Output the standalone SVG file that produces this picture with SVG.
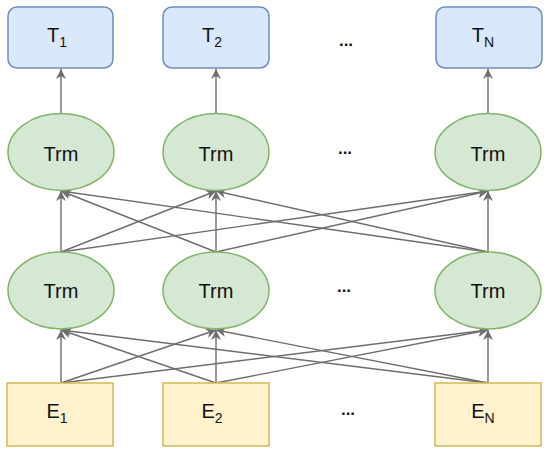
<svg xmlns="http://www.w3.org/2000/svg" width="550" height="457" viewBox="0 0 550 457">
<style>
.t{fill:#dae8fc;stroke:#6c8ebf;stroke-width:1.5}
.trm{fill:#d5e8d4;stroke:#82b366;stroke-width:1.5}
.e{fill:#fff2cc;stroke:#d6b656;stroke-width:1.5}
.lbl{font-family:"Liberation Sans",Arial,sans-serif;font-size:20px;fill:#111;text-anchor:middle}
.sub{font-size:14px}
.dots{font-family:"Liberation Sans",Arial,sans-serif;font-size:17px;font-weight:bold;fill:#111;text-anchor:middle}
#connectors line{stroke:#6e6e6e;stroke-width:1.4;fill:none;marker-end:url(#arr)}
</style>
<defs>
<marker id="arr" markerUnits="userSpaceOnUse" markerWidth="12" markerHeight="12" refX="10" refY="5" orient="auto">
<path d="M0,0 L10,5 L0,10 L3,5 Z" fill="#6e6e6e"/>
</marker>
</defs>
<g id="connectors">
<line x1="61" y1="113" x2="61" y2="69"/>
<line x1="216" y1="113" x2="216" y2="69"/>
<line x1="488" y1="113" x2="488" y2="69"/>
<line x1="61" y1="252" x2="61" y2="191"/>
<line x1="61" y1="252" x2="216" y2="191"/>
<line x1="61" y1="252" x2="488" y2="191"/>
<line x1="216" y1="252" x2="61" y2="191"/>
<line x1="216" y1="252" x2="216" y2="191"/>
<line x1="216" y1="252" x2="488" y2="191"/>
<line x1="488" y1="252" x2="61" y2="191"/>
<line x1="488" y1="252" x2="216" y2="191"/>
<line x1="488" y1="252" x2="488" y2="191"/>
<line x1="61" y1="383" x2="61" y2="330"/>
<line x1="61" y1="383" x2="216" y2="330"/>
<line x1="61" y1="383" x2="488" y2="330"/>
<line x1="216" y1="383" x2="61" y2="330"/>
<line x1="216" y1="383" x2="216" y2="330"/>
<line x1="216" y1="383" x2="488" y2="330"/>
<line x1="488" y1="383" x2="61" y2="330"/>
<line x1="488" y1="383" x2="216" y2="330"/>
<line x1="488" y1="383" x2="488" y2="330"/>
</g>
<g id="T1"><rect class="t" x="8" y="7" width="105" height="61" rx="9"/><text class="lbl" x="61" y="42" dx="-4">T<tspan class="sub" dy="5">1</tspan></text></g>
<g id="T2"><rect class="t" x="163" y="7" width="106" height="61" rx="9"/><text class="lbl" x="216" y="42" dx="-4">T<tspan class="sub" dy="5">2</tspan></text></g>
<g id="TN"><rect class="t" x="436" y="7" width="106" height="61" rx="9"/><text class="lbl" x="488" y="42" dx="-5">T<tspan class="sub" dy="5">N</tspan></text></g>
<g id="dotsT"><text class="dots" x="346" y="46">...</text></g>
<g id="TrmA1"><ellipse class="trm" cx="61" cy="152" rx="53" ry="38.5"/><text class="lbl" x="61" y="161">Trm</text></g>
<g id="TrmA2"><ellipse class="trm" cx="216" cy="152" rx="53" ry="38.5"/><text class="lbl" x="216" y="161">Trm</text></g>
<g id="TrmAN"><ellipse class="trm" cx="488" cy="152" rx="53" ry="38.5"/><text class="lbl" x="488" y="161">Trm</text></g>
<g id="dotsA"><text class="dots" x="345" y="154">...</text></g>
<g id="TrmB1"><ellipse class="trm" cx="61" cy="290.5" rx="53" ry="38.5"/><text class="lbl" x="61" y="298">Trm</text></g>
<g id="TrmB2"><ellipse class="trm" cx="216" cy="290.5" rx="53" ry="38.5"/><text class="lbl" x="216" y="298">Trm</text></g>
<g id="TrmBN"><ellipse class="trm" cx="488" cy="290.5" rx="53" ry="38.5"/><text class="lbl" x="488" y="298">Trm</text></g>
<g id="dotsB"><text class="dots" x="344" y="292">...</text></g>
<g id="E1"><rect class="e" x="7" y="383" width="106" height="63"/><text class="lbl" x="61" y="418" dx="-4">E<tspan class="sub" dy="5">1</tspan></text></g>
<g id="E2"><rect class="e" x="163" y="383" width="106" height="63"/><text class="lbl" x="216" y="418" dx="-4">E<tspan class="sub" dy="5">2</tspan></text></g>
<g id="EN"><rect class="e" x="435" y="383" width="106" height="63"/><text class="lbl" x="488" y="418" dx="-5">E<tspan class="sub" dy="5">N</tspan></text></g>
<g id="dotsE"><text class="dots" x="348" y="415">...</text></g>
</svg>
